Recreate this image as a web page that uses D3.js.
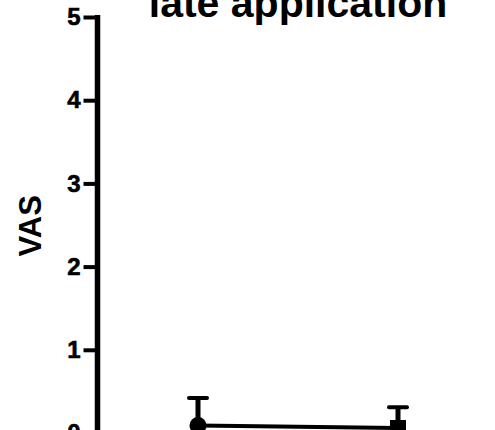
<!DOCTYPE html>
<html>
<head>
<meta charset="utf-8">
<script src="https://cdn.jsdelivr.net/npm/d3@7"></script>
<style>
  html, body { margin: 0; padding: 0; background: #fff; }
  svg { display: block; }
  text { font-family: "Liberation Sans", Arial, Helvetica, sans-serif; font-weight: bold; fill: #000; }
</style>
</head>
<body>
<svg id="chart" width="495" height="430"></svg>
<script>
// Group means and SEM of the VAS score
const groups = ["before", "after"];
const means = [0.09, 0.06];
const sems = [0.33, 0.25];
const yTicks = [0, 1, 2, 3, 4, 5];
const title = "late application";
const yLabel = "VAS";

const svg = d3.select("#chart");

const y = d3.scaleLinear().domain([0, 5]).range([433, 17]);
const x = d3.scalePoint().domain(groups).range([98, 498]).padding(0.5);

// y axis
const axisX = 97.5;
const gy = svg.append("g").attr("transform", `translate(${axisX},0)`)
  .attr("font-size", 24)
  .call(d3.axisLeft(y).tickValues(yTicks).tickFormat(d3.format("d"))
    .tickSize(14).tickSizeOuter(0).tickPadding(3));
gy.attr("font-size", 24).attr("font-family", null);
gy.select(".domain").attr("stroke", "#000").attr("stroke-width", 5.5)
  .attr("d", `M0,${y(5) - 2}V${y(0) + 2}`);
gy.selectAll(".tick line").attr("stroke", "#000").attr("stroke-width", 4);
gy.selectAll(".tick text")
  .attr("font-size", 24)
  .style("font-size", "24px").style("font-weight", "900")
  .style("stroke", "#000").style("stroke-width", "0.6px")
  .attr("fill", "#000");

// y axis title
svg.append("text")
  .attr("transform", `translate(41,${y(2.49)}) rotate(-90)`)
  .attr("text-anchor", "middle")
  .style("font-size", "31px")
  .text(yLabel);

// chart title
svg.append("text")
  .attr("x", 298).attr("y", 17)
  .attr("text-anchor", "middle")
  .style("font-size", "41px")
  .text(title);

// connecting line
const line = d3.line().x((d, i) => x(groups[i])).y(d => y(d));
svg.append("path").datum(means)
  .attr("d", line).attr("fill", "none")
  .attr("stroke", "#000").attr("stroke-width", 4);

// error bars
const capW = 22;
groups.forEach((g, i) => {
  const cx = x(g);
  svg.append("line")
    .attr("x1", cx).attr("x2", cx)
    .attr("y1", y(means[i] - sems[i])).attr("y2", y(means[i] + sems[i]))
    .attr("stroke", "#000").attr("stroke-width", 5);
  svg.append("line")
    .attr("x1", cx - capW / 2 + 2).attr("x2", cx + capW / 2 - 2)
    .attr("y1", y(means[i] + sems[i])).attr("y2", y(means[i] + sems[i]))
    .attr("stroke", "#000").attr("stroke-width", 4).attr("stroke-linecap", "round");
});

// markers: circle for the first group, square for the second
svg.append("circle")
  .attr("cx", x(groups[0])).attr("cy", y(means[0])).attr("r", 8.5)
  .attr("fill", "#000");
const s = 16;
svg.append("rect")
  .attr("x", x(groups[1]) - s / 2).attr("y", y(means[1]) - s / 2)
  .attr("width", s).attr("height", s)
  .attr("fill", "#000");
</script>
</body>
</html>
